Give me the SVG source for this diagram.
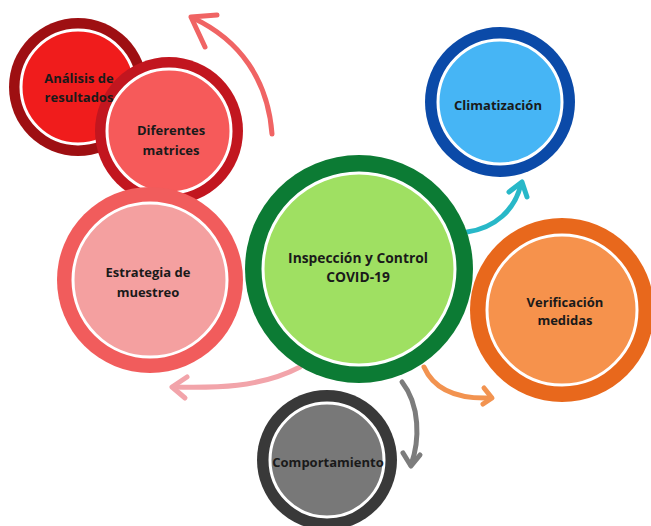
<svg xmlns="http://www.w3.org/2000/svg" width="651" height="526" viewBox="0 0 651 526">
<style>
.t{font-family:"Open Sans","Noto Sans","Liberation Sans",sans-serif;font-weight:700;font-size:13px;fill:#1a1a1a;text-anchor:middle}
.in{stroke:#ffffff;stroke-width:3}
.c{fill:none;stroke-width:5;stroke-linecap:round;stroke-linejoin:round}
</style>
<rect width="651" height="526" fill="#ffffff"/>
<g id="connectors">
<g stroke="#f06464" class="c"><path class="c" d="M272,134 C268,80 240,40 193,18"/><path class="c" d="M217,15 L191,17 L205,47"/></g>
<g stroke="#28b8c8" class="c"><path class="c" d="M467,232 C495,228 515,210 521,184"/><path class="c" d="M509,192 L522,182 L527,197"/></g>
<g stroke="#f29350" class="c"><path class="c" d="M424,367 C435,392 460,399 490,398"/><path class="c" d="M484,388 L492,398 L483,404"/></g>
<g stroke="#7c7c7c" class="c"><path class="c" d="M402,382 C420,405 420,440 411,465"/><path class="c" d="M403,453 L411,466 L420,455"/></g>
<g stroke="#f2a4aa" class="c"><path class="c" d="M300,367 C260,388 215,388 173,387"/><path class="c" d="M187,377 L172,387 L185,398"/></g>
</g>
<g id="n-analisis">
<circle cx="78" cy="87" r="69" fill="#9e0f12"/>
<circle cx="78" cy="87" r="57" fill="#f01c1c" class="in"/>
</g>
<g id="n-diferentes">
<circle cx="169" cy="131" r="74" fill="#c2161f"/>
<circle cx="169" cy="131" r="62" fill="#f65a5a" class="in"/>
<text class="t" x="171" y="135">Diferentes</text>
<text class="t" x="171" y="155">matrices</text>
</g>
<g id="n-analisis-label">
<text class="t" x="79" y="83">Análisis de</text>
<text class="t" x="79" y="102">resultados</text>
</g>
<g id="n-estrategia">
<circle cx="150" cy="280" r="93" fill="#f15c5c"/>
<circle cx="150" cy="280" r="77" fill="#f4a0a0" class="in"/>
<text class="t" x="148" y="277">Estrategia de</text>
<text class="t" x="148" y="297">muestreo</text>
</g>
<g id="n-main">
<circle cx="359" cy="269" r="114" fill="#0c7b34"/>
<circle cx="359" cy="269" r="96" fill="#9fe062" class="in"/>
<text class="t" x="358" y="263" style="font-size:13.8px">Inspección y Control</text>
<text class="t" x="358" y="282" style="font-size:13.8px">COVID-19</text>
</g>
<g id="n-clima">
<circle cx="500" cy="102" r="75" fill="#0b4aa8"/>
<circle cx="500" cy="102" r="62" fill="#46b5f5" class="in"/>
<text class="t" x="498" y="110">Climatización</text>
</g>
<g id="n-verif">
<circle cx="562" cy="310" r="92" fill="#e8681c"/>
<circle cx="562" cy="310" r="75" fill="#f6924c" class="in"/>
<text class="t" x="565" y="307">Verificación</text>
<text class="t" x="565" y="325">medidas</text>
</g>
<g id="n-comport">
<circle cx="327" cy="460" r="70" fill="#393939"/>
<circle cx="327" cy="460" r="57" fill="#787878" class="in"/>
<text class="t" x="328" y="467">Comportamiento</text>
</g>
</svg>
